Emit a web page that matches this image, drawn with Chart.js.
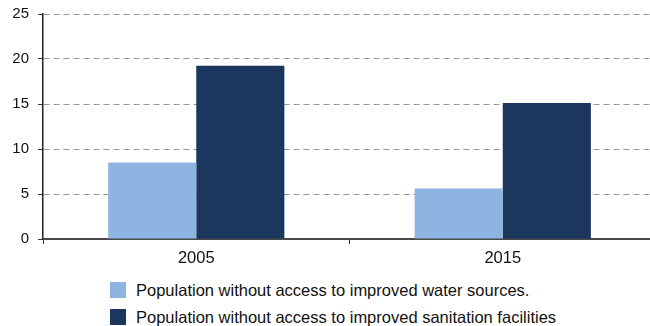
<!DOCTYPE html>
<html>
<head>
<meta charset="utf-8">
<script src="https://cdn.jsdelivr.net/npm/chart.js@4/dist/chart.umd.min.js"></script>
<style>
  html, body { margin: 0; padding: 0; background: #fff; }
  #wrap { position: relative; width: 650px; height: 326px; overflow: hidden; }
  #c { position: absolute; left: 0; top: 0; }
  .leg { position: absolute; left: 110px; font-family: "Liberation Sans", Arial, sans-serif; font-size: 16.5px; color: #111; white-space: nowrap; }
  .leg span.sw { position: absolute; left: 0; top: 0; width: 16px; height: 16px; }
  .leg span.tx { position: absolute; left: 26px; top: -1px; line-height: 18px; }
</style>
</head>
<body>
<div id="wrap">
  <canvas id="c" width="656" height="275"></canvas>
  <div id="legend"></div>
</div>
<script>
const categories = ["2005", "2015"];
const waterValues = [8.5, 5.6];
const sanitationValues = [19.25, 15.1];
const seriesNames = [
  "Population without access to improved water sources.",
  "Population without access to improved sanitation facilities"
];
const yTicks = [0, 5, 10, 15, 20, 25];
const colors = ["#8EB4E2", "#1B375E"];

const FONT = '"Liberation Sans", Arial, sans-serif';
const ctx = document.getElementById('c').getContext('2d');
new Chart(ctx, {
  type: 'bar',
  data: {
    labels: categories,
    datasets: [
      { label: seriesNames[0], data: waterValues, backgroundColor: colors[0], borderWidth: 0 },
      { label: seriesNames[1], data: sanitationValues, backgroundColor: colors[1], borderWidth: 0 }
    ]
  },
  options: {
    responsive: false,
    animation: false,
    layout: { padding: { top: 14, right: 0, left: 0, bottom: 0 } },
    plugins: { legend: { display: false }, tooltip: { enabled: false } },
    datasets: { bar: { categoryPercentage: 0.575, barPercentage: 1.0 } },
    scales: {
      x: {
        afterFit: s => { s.height = 36; s.paddingLeft = 0; s.paddingRight = 0; },
        offset: true,
        grid: { offset: true, drawOnChartArea: false, drawTicks: true, tickLength: 5, color: '#333', lineWidth: 1 },
        border: { display: true, color: '#4a4a4a', width: 2 },
        ticks: { color: '#111', padding: 5, font: { family: FONT, size: 16.5 } }
      },
      y: {
        min: 0, max: 25,
        afterFit: s => { s.width = 43; s.paddingTop = 0; s.paddingBottom = 0; },
        afterBuildTicks: s => { s.ticks = yTicks.map(v => ({ value: v })); },
        grid: {
          color: '#999', lineWidth: 1, tickLength: 5,
          drawTicks: true,
          tickColor: '#333',
          tickBorderDash: []
        },
        border: { display: true, color: '#222', width: 1.5, dash: [6, 4] },
        ticks: { color: '#111', padding: 9, font: { family: FONT, size: 15 } }
      }
    }
  }
});

const legend = document.getElementById('legend');
seriesNames.forEach((name, i) => {
  const d = document.createElement('div');
  d.className = 'leg';
  d.style.top = (282 + i * 27) + 'px';
  d.innerHTML = '<span class="sw" style="background:' + colors[i] + '"></span><span class="tx"></span>';
  d.querySelector('.tx').textContent = name;
  legend.appendChild(d);
});
</script>
</body>
</html>
